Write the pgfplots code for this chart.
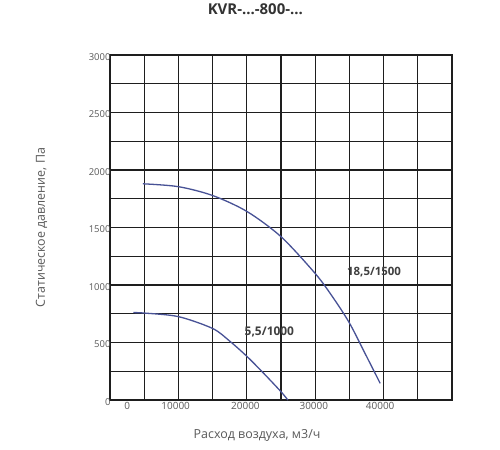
\documentclass[border=0pt]{standalone}
\usepackage{fontspec}
\setmainfont{Open Sans}
\usepackage{pgfplots}
\pgfplotsset{compat=1.18}
\definecolor{curve}{RGB}{72,82,150}
\definecolor{gridc}{RGB}{30,30,30}
\definecolor{lab}{RGB}{90,90,90}
\begin{document}
\begin{tikzpicture}[x=1bp,y=1bp]
\path[use as bounding box, fill=white] (-110,-50) rectangle (390,400);
\begin{axis}[
  at={(0,0)}, anchor=origin,
  scale only axis, width=342bp, height=345bp,
  xmin=0, xmax=50000, ymin=0, ymax=3000,
  xtick={0,5000,...,50000}, xticklabels={},
  ytick={0,250,...,3000},
  yticklabels={0,,500,,1000,,1500,,2000,,2500,,3000},
  scaled x ticks=false, scaled y ticks=false,
  grid=major,
  major grid style={gridc, line width=1.25bp},
  axis line style={gridc, line width=1.25bp},
  major tick length=0pt,
  yticklabel style={font=\fontsize{9.5}{10}\selectfont, text=lab, xshift=4bp, yshift=-2bp},
  extra x ticks={2500,9600,19800,29800,39500},
  extra x tick labels={0,10000,20000,30000,40000},
  extra x tick style={grid=none, major tick length=0pt, xticklabel style={font=\fontsize{10}{11}\selectfont, text=lab, yshift=1bp}},
  xlabel={Расход воздуха, м3/ч},
  ylabel={Статическое давление, Па},
  xlabel style={font=\fontsize{12.5}{14}\selectfont, text=lab, at={(axis description cs:0.43,0)}, anchor=north, yshift=-26bp},
  ylabel style={font=\fontsize{12.5}{14}\selectfont, text=lab, at={(axis description cs:-0.2,0.5)}, anchor=center},
  title={KVR-...-800-...},
  title style={font=\fontsize{15}{17}\selectfont\bfseries, text=black!80, at={(axis description cs:0.425,1)}, anchor=center, yshift=40bp},
  clip=false,
]
\addplot[curve, line width=1.3bp, smooth] coordinates {
(4800,1880) (10000,1855) (15000,1778) (20000,1640) (25000,1420) (30000,1100) (32500,900) (35000,670) (37500,380) (39500,145)
};
\addplot[curve, line width=1.3bp, smooth] coordinates {
(3400,760) (5000,756) (10000,725) (15000,622) (17500,512) (20000,380) (22500,230) (25000,72) (26000,0)
};
\node[font=\fontsize{12}{13}\selectfont\bfseries, text=black!75] at (axis cs:23300,595) {5,5/1000};
\node[font=\fontsize{11.5}{13}\selectfont\bfseries, text=black!75] at (axis cs:38600,1113) {18,5/1500};
\end{axis}
\end{tikzpicture}
\end{document}
